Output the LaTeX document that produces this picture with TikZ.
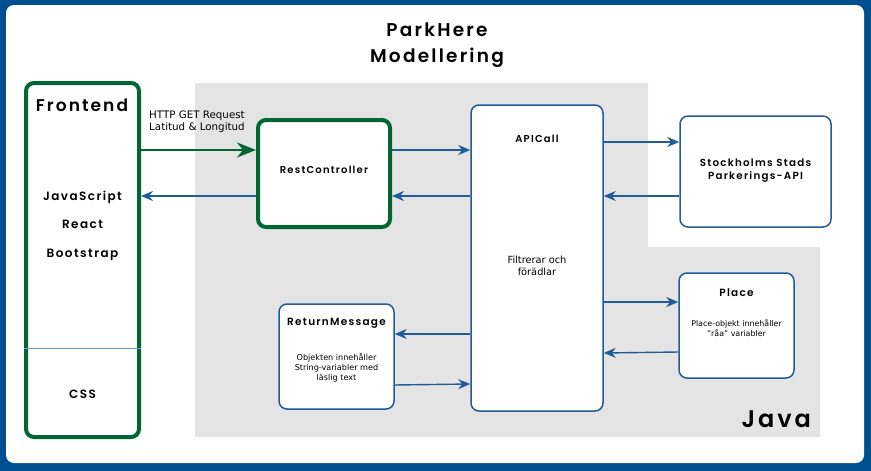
\documentclass[tikz,border=0pt]{standalone}
\usepackage{fontspec}
\setmainfont{DejaVu Sans}
\newfontfamily\ttl[LetterSpace=12,BoldFont={Poppins SemiBold}]{Poppins}
\usetikzlibrary{arrows.meta,calc}
\definecolor{frameblue}{HTML}{00508F}
\definecolor{lineblue}{HTML}{1F5C99}
\definecolor{boxgreen}{HTML}{006633}
\definecolor{javagray}{HTML}{E4E4E4}
\definecolor{divblue}{HTML}{6A9FD0}
\tikzset{
  greenbox/.style={draw=boxgreen,line width=4pt,rounded corners=8pt,fill=white,inner sep=0pt},
  bluebox/.style={draw=lineblue,line width=1.5pt,rounded corners=8pt,fill=white,inner sep=0pt},
  flow/.style={draw=lineblue,line width=1.4pt,-{Stealth[length=12pt,width=10pt,inset=4pt]}},
  gflow/.style={draw=boxgreen,line width=2.6pt,-{Stealth[length=19pt,width=15pt,inset=6pt]}},
  ttltext/.style={font=\ttl\bfseries\fontsize{#1}{#1}\selectfont,inner sep=0pt,align=center},
  body/.style n args={2}{font=\fontsize{#1}{#2}\selectfont,inner sep=0pt,align=center},
}
\begin{document}
\begin{tikzpicture}[x=1pt,y=-1pt]
\useasboundingbox (0,0) rectangle (871,471);
\fill[frameblue] (0,0) rectangle (871,471);
\fill[white,rounded corners=8pt] (6,5) rectangle (864,463);
\fill[javagray] (195,83) -- (648,83) -- (648,247) -- (820,247) -- (820,437) -- (195,437) -- cycle;
\node[ttltext=18.5,align=center] (title) at (437,45) {ParkHere\\[7pt]Modellering};
% boxes
\node[greenbox,minimum width=113pt,minimum height=354pt] (front) at (82.5,260) {};
\node[greenbox,minimum width=132pt,minimum height=107pt] (rc) at (324,173.5) {};
\node[bluebox,minimum width=132pt,minimum height=306pt] (api) at (537,258) {};
\node[bluebox,minimum width=151pt,minimum height=111pt] (sthlm) at (755.5,171.5) {};
\node[bluebox,minimum width=115pt,minimum height=105pt] (place) at (736.5,325.5) {};
\node[bluebox,minimum width=115pt,minimum height=105pt] (ret) at (336.5,356.5) {};
\draw[divblue,line width=0.8pt] (front.west |- 0,348) -- (front.east |- 0,348);
% texts
\node[ttltext=17] (tfront) at (82,105) {Frontend};
\node[ttltext=12] (tjs) at (82.5,197) {JavaScript};
\node[ttltext=12] (treact) at (82.5,224) {React};
\node[ttltext=12] (tboot) at (82.5,255) {Bootstrap};
\node[ttltext=12] (tcss) at (82.5,394) {CSS};
\node[ttltext=10] (trc) at (324,170) {RestController};
\node[ttltext=10] (tapi) at (537,139) {APICall};
\node[body={9.8}{12}] (tfilt) at (537,266) {Filtrerar och\\förädlar};
\node[ttltext=10.3] (tsthlm) at (755.5,170.5) {Stockholms Stads\\[3pt]Parkerings-API};
\node[ttltext=10.5] (tplace) at (736.5,293) {Place};
\node[body={7.9}{10}] (tplaceb) at (736.5,328) {Place-objekt innehåller\\"råa" variabler};
\node[ttltext=10.5] (tret) at (336.5,323) {ReturnMessage};
\node[body={8.1}{10}] (tretb) at (336.5,367.5) {Objekten innehåller\\String-variabler med\\läslig text};
\node[ttltext=24,anchor=east] (tjava) at (811,419) {Java};
\node[body={10.3}{12},align=left,anchor=west] (thttp) at (149,122) {HTTP GET Request\\Latitud \& Longitud};
% connectors
\draw[gflow] (front.east |- 0,150) -- (rc.west |- 0,150);
\draw[flow] (rc.west |- 0,196) -- (front.east |- 0,196);
\draw[flow] (rc.east |- 0,150) -- (api.west |- 0,150);
\draw[flow] (api.west |- 0,196) -- (rc.east |- 0,196);
\draw[flow] (api.east |- 0,142) -- (sthlm.west |- 0,142);
\draw[flow] (sthlm.west |- 0,196) -- (api.east |- 0,196);
\draw[flow] (api.east |- 0,302) -- (place.west |- 0,302);
\draw[flow] (place.west |- 0,352) -- (api.east |- 0,353);
\draw[flow] (api.west |- 0,334) -- (ret.east |- 0,334);
\draw[flow] (ret.east |- 0,385) -- (api.west |- 0,384);
\end{tikzpicture}
\end{document}
